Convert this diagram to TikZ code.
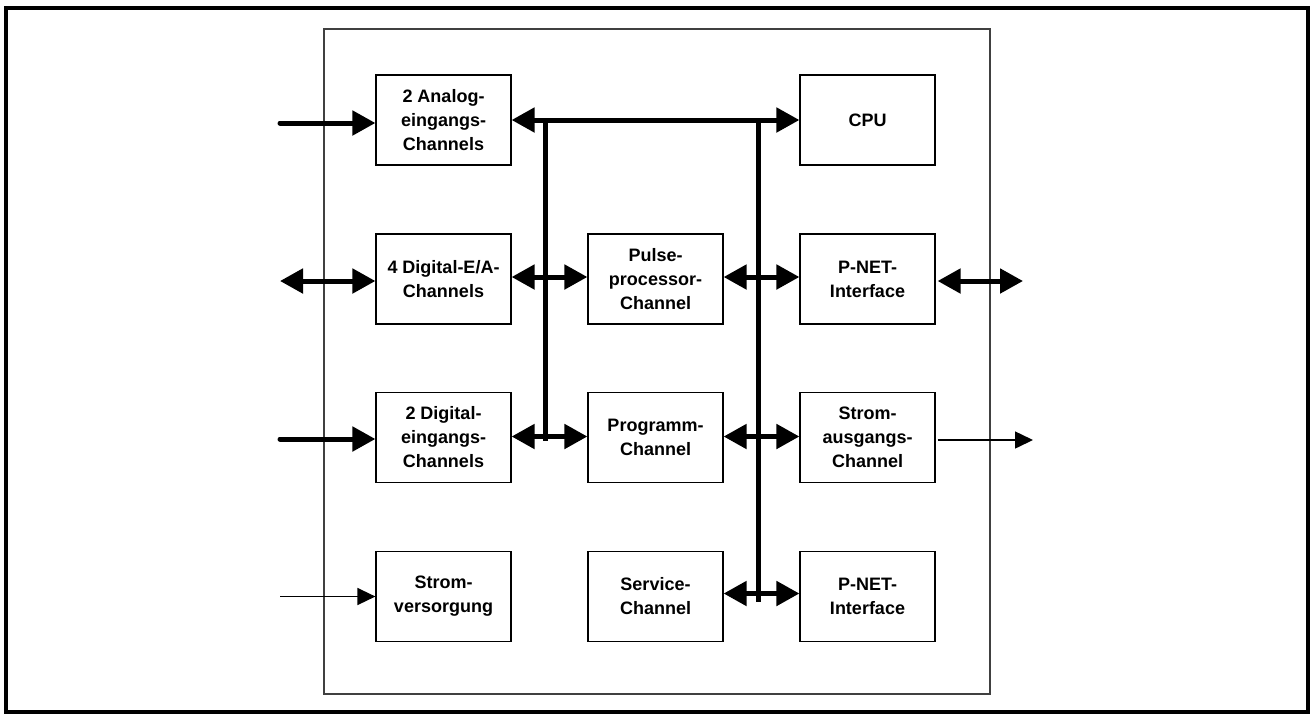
\documentclass[tikz,border=0pt]{standalone}
\usepackage{fontspec}
\setmainfont{Liberation Sans}
\usetikzlibrary{arrows.meta}
\begin{document}
\begin{tikzpicture}[x=1pt,y=-1pt,
  block/.style={draw=black,line width=1.2pt,minimum width=135pt,minimum height=90pt,
    inner sep=0pt,align=center,font=\fontsize{18}{24}\selectfont\bfseries},
  bus/.style={line width=5pt},
  thin/.style={line width=1.5pt},
  bigtip/.style={-{Triangle[length=23pt,width=24pt]}},
  bigboth/.style={{Triangle[length=23pt,width=24pt]}-{Triangle[length=23pt,width=24pt]}},
  smalltip/.style={-{Triangle[length=18pt,width=17pt]}}]
\useasboundingbox (0,0) rectangle (1313,716);
% frame and housing
\draw[line width=4pt] (6,8) rectangle (1308,712);
\draw[line width=1.3pt,black!75] (324,29) rectangle (990,694);

% blocks
\node[block] (ana)  at (443.5,120)   {2 Analog-\\eingangs-\\Channels};
\node[block] (cpu)  at (867.5,120)   {CPU};
\node[block] (dea)  at (443.5,279)   {4 Digital-E/A-\\Channels};
\node[block] (pulse) at (655.5,279)  {Pulse-\\processor-\\Channel};
\node[block] (pnet1) at (867.5,279)  {P-NET-\\Interface};
\node[block] (dein) at (443.5,437.5) {2 Digital-\\eingangs-\\Channels};
\node[block] (prog) at (655.5,437.5) {Programm-\\Channel};
\node[block] (sout) at (867.5,437.5) {Strom-\\ausgangs-\\Channel};
\node[block] (sup)  at (443.5,596.5) {Strom-\\versorgung};
\node[block] (serv) at (655.5,596.5) {Service-\\Channel};
\node[block] (pnet2) at (867.5,596.5) {P-NET-\\Interface};

% internal bus
\draw[bus,bigboth] (ana.east) -- (cpu.west);
\coordinate (busLtop) at (545.5,118);
\coordinate (busLbot) at (545.5,441);
\coordinate (busRtop) at (758,118);
\coordinate (busRbot) at (758,602);
\draw[bus] (busLtop) -- (busLbot);
\draw[bus] (busRtop) -- (busRbot);
\draw[bus,bigboth] ([yshift=2pt]dea.east) -- ([yshift=2pt]pulse.west);
\draw[bus,bigboth] ([yshift=2pt]pulse.east) -- ([yshift=2pt]pnet1.west);
\draw[bus,bigboth] ([yshift=1pt]dein.east) -- ([yshift=1pt]prog.west);
\draw[bus,bigboth] ([yshift=1pt]prog.east) -- ([yshift=1pt]sout.west);
\draw[bus,bigboth] ([yshift=3pt]serv.east) -- ([yshift=3pt]pnet2.west);

% external connections
\coordinate (inA) at (280,123);
\coordinate (inD) at (280,281);
\coordinate (inE) at (280,439);
\coordinate (inS) at (280,596.5);
\coordinate (outP) at (1023,281);
\coordinate (outS) at (1033,440);
\draw[bus,line cap=round,bigtip] (inA) -- (ana.west |- inA);
\draw[bus,bigboth] (inD) -- (dea.west |- inD);
\draw[bus,line cap=round,bigtip] (inE) -- (dein.west |- inE);
\draw[thin,smalltip] (inS) -- (sup.west |- inS);
\draw[bus,bigboth] ([xshift=2pt]pnet1.east |- outP) -- (outP);
\draw[thin,smalltip] ([xshift=2pt]sout.east |- outS) -- (outS);
\end{tikzpicture}
\end{document}
